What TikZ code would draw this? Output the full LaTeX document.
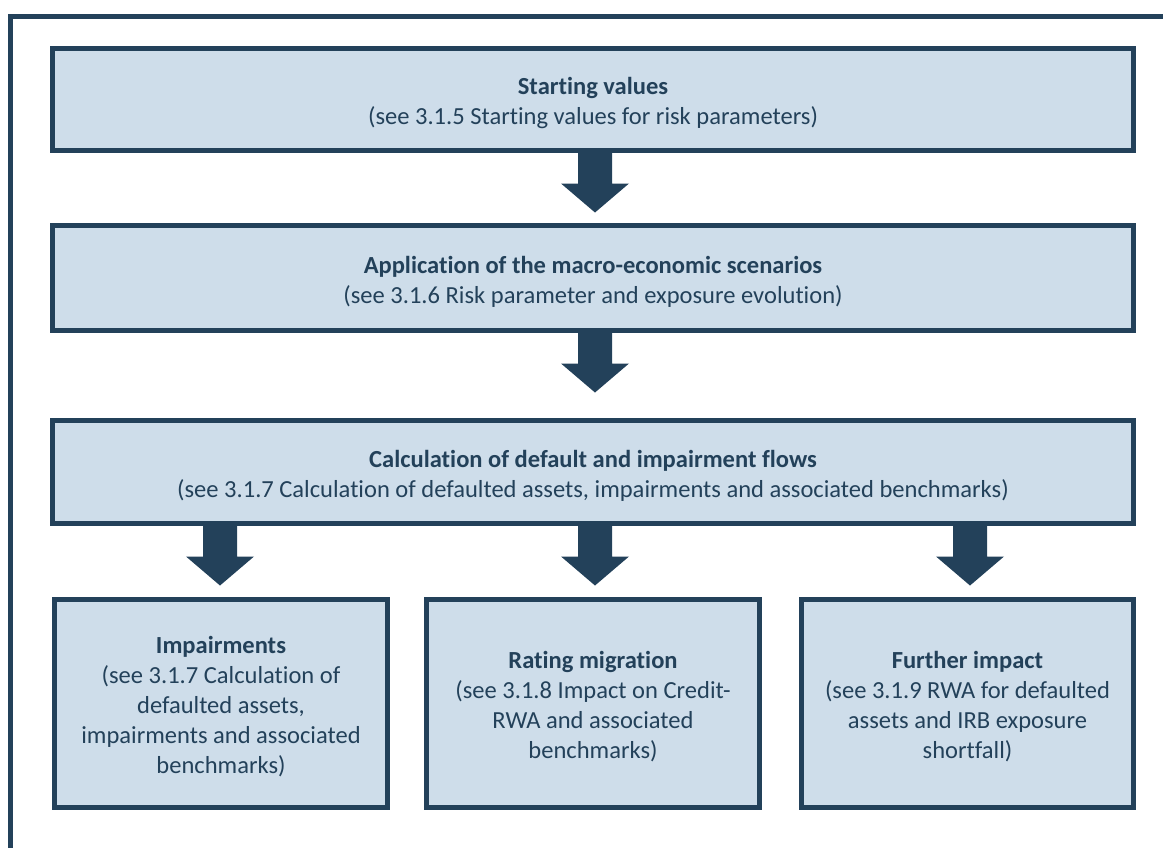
\documentclass[tikz,border=0pt]{standalone}
\usepackage{fontspec}
\setmainfont[Ligatures=NoCommon]{Carlito}
\usetikzlibrary{calc}
\definecolor{dk}{HTML}{23415A}
\definecolor{lt}{HTML}{CEDDEA}
\tikzset{
  box/.style={draw=dk, fill=lt, line width=3.75pt, inner sep=0pt},
  txt/.style={text=dk, align=center, inner sep=0pt, yshift=-2.6pt,
    font=\fontsize{18.4}{22.5}\selectfont},
  blockarrow/.style={fill=dk}
}
\newcommand\downarrowblock[1]{%
  \fill[blockarrow] (#1) ++(-17,0) -- ++(0,30.5) -- ++(-17,0) -- ++(34,29) -- ++(34,-29) -- ++(-17,0) -- ++(0,-30.5) -- cycle;}
\begin{document}
\begin{tikzpicture}[x=0.75pt,y=-0.75pt]
\useasboundingbox (0,0) rectangle (1163,847);
\clip (0,0) rectangle (1163,847);
\fill[white] (0,0) rectangle (1163,847);
\draw[dk, line width=3.75pt] (10.5,880) -- (10.5,16.5) -- (1200,16.5);
\node[box, minimum width=1081*0.75pt, minimum height=102*0.75pt,
  label={[txt]center:{\textbf{Starting values}\\(see 3.1.5 Starting values for risk parameters)}}] (b1) at (593,99.5) {};
\node[box, minimum width=1081*0.75pt, minimum height=105*0.75pt,
  label={[txt]center:{\textbf{Application of the macro-economic scenarios}\\(see 3.1.6 Risk parameter and exposure evolution)}}] (b2) at (593,278) {};
\node[box, minimum width=1081*0.75pt, minimum height=103*0.75pt,
  label={[txt]center:{\textbf{Calculation of default and impairment flows}\\(see 3.1.7 Calculation of defaulted assets, impairments and associated benchmarks)}}] (b3) at (593,472) {};
\node[box, minimum width=333*0.75pt, minimum height=208*0.75pt,
  label={[txt]center:{\textbf{Impairments}\\(see 3.1.7 Calculation of\\defaulted assets,\\impairments and associated\\benchmarks)}}] (c1) at (221,703.5) {};
\node[box, minimum width=333*0.75pt, minimum height=208*0.75pt,
  label={[txt]center:{\textbf{Rating migration}\\(see 3.1.8 Impact on Credit-\\RWA and associated\\benchmarks)}}] (c2) at (593,703.5) {};
\node[box, minimum width=332*0.75pt, minimum height=208*0.75pt,
  label={[txt]center:{\textbf{Further impact}\\(see 3.1.9 RWA for defaulted\\assets and IRB exposure\\shortfall)}}] (c3) at (967.5,703.5) {};
\coordinate (a1) at (595,0 |- b1.south);
\coordinate (a2) at (595,0 |- b2.south);
\coordinate (a3) at (220,0 |- b3.south);
\coordinate (a4) at (595,0 |- b3.south);
\coordinate (a5) at (970,0 |- b3.south);
\downarrowblock{a1}
\downarrowblock{a2}
\downarrowblock{a3}
\downarrowblock{a4}
\downarrowblock{a5}
\end{tikzpicture}
\end{document}
